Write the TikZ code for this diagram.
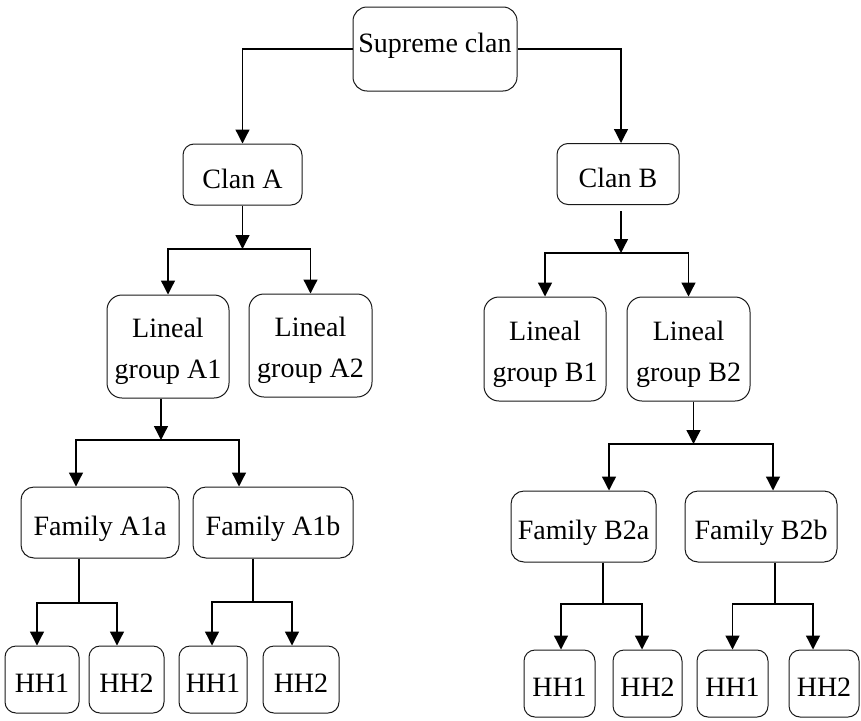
\documentclass[tikz,border=0pt]{standalone}
\usepackage{fontspec}
\setmainfont{Liberation Serif}
\usetikzlibrary{arrows.meta}
\begin{document}
\begin{tikzpicture}[x=1pt,y=-1pt,
  box/.style={draw=black!90, line width=1pt, rounded corners=12pt,
    inner sep=0pt, font=\fontsize{28}{41}\selectfont},
  one/.style={box, text height=25pt, text depth=0pt},
  clan/.style={one, text height=27pt, minimum height=61pt, rounded corners=11pt},
  lin/.style={box, align=center, minimum width=122pt, minimum height=103pt, rounded corners=15pt},
  fam/.style={one, minimum height=71pt, rounded corners=13pt},
  hh/.style={one, minimum height=67pt, rounded corners=11pt},
  link/.style={line width=1.3pt},
  arr/.style={link, -{Triangle[length=14pt,width=14pt]}},
]
\useasboundingbox (0,0) rectangle (861,720);

% top of the tree
\node[one, rounded corners=14pt, minimum width=164pt, minimum height=84pt,
      text height=19pt, text depth=11.6pt] (sup) at (435,49) {Supreme clan};

% clans
\node[clan, minimum width=119pt] (ca) at (242.5,174.5) {Clan A};
\node[clan, minimum width=122pt] (cb) at (618,174) {Clan B};

% lineal groups
\node[lin] (la1) at (168,346.5) {\rule{0pt}{30pt}Lineal\\group A1};
\node[lin, minimum width=123pt] (la2) at (310.5,345.5) {\rule{0pt}{30pt}Lineal\\group A2};
\node[lin, minimum height=104pt] (lb1) at (545,349) {\rule{0pt}{31pt}Lineal\\group B1};
\node[lin, minimum width=123pt, minimum height=104pt] (lb2) at (688.5,349) {\rule{0pt}{31pt}Lineal\\group B2};

% families
\node[fam, minimum width=158pt] (fa) at (100,522.5) {Family A1a};
\node[fam, minimum width=160pt] (fb) at (273,522.5) {Family A1b};
\node[fam, minimum width=145pt] (fc) at (583.5,526.5) {Family B2a};
\node[fam, minimum width=152pt] (fd) at (761,526.5) {Family B2b};

% households
\node[hh, minimum width=74pt] (h1) at (42,679.5) {HH1};
\node[hh, minimum width=75pt] (h2) at (126.5,679.5) {HH2};
\node[hh, minimum width=68pt] (h3) at (213,679.5) {HH1};
\node[hh, minimum width=76pt] (h4) at (301,679.5) {HH2};
\node[hh, minimum width=71pt] (h5) at (559.5,683.5) {HH1};
\node[hh, minimum width=69pt] (h6) at (647.5,683.5) {HH2};
\node[hh, minimum width=71pt] (h7) at (732.5,683.5) {HH1};
\node[hh, minimum width=70pt] (h8) at (824,683.5) {HH2};

% supreme clan to clans
\draw[arr] (sup.west) -| (ca.north);
\draw[arr] (sup.east) -| ([xshift=3pt]cb.north);

% clans to lineal groups
\coordinate (ja) at (242.5,249);
\draw[arr] (ca.south) -- (ja);
\draw[arr] (ja) -| (la1.north);
\draw[arr] (ja) -| (la2.north);

\coordinate (jb) at (621,253);
\draw[arr] ([xshift=3pt,yshift=-6pt]cb.south) -- (jb);
\draw[arr] (jb) -| (lb1.north);
\draw[arr] (jb) -| (lb2.north);

% lineal groups to families
\coordinate (j1) at (161,440);
\draw[arr] ([xshift=-7pt]la1.south) -- (j1);
\draw[arr] (j1) -| ([xshift=-24pt]fa.north);
\draw[arr] (j1) -| ([xshift=-34pt]fb.north);

\coordinate (j2) at (693.5,444);
\draw[arr] ([xshift=5pt]lb2.south) -- (j2);
\draw[arr] (j2) -| ([xshift=25.5pt]fc.north);
\draw[arr] (j2) -| ([xshift=12pt]fd.north);

% families to households
\coordinate (k1) at (79,603);
\draw[link] ([xshift=-21pt]fa.south) -- (k1);
\draw[arr] (k1) -| ([xshift=-5pt]h1.north);
\draw[arr] (k1) -| ([xshift=-9.5pt]h2.north);

\coordinate (k2) at (253,602);
\draw[link] ([xshift=-20pt]fb.south) -- (k2);
\draw[arr] (k2) -| ([xshift=-1pt]h3.north);
\draw[arr] (k2) -| ([xshift=-9pt]h4.north);

\coordinate (k3) at (603,604);
\draw[link] ([xshift=19.5pt]fc.south) -- (k3);
\draw[arr] (k3) -| ([xshift=1.5pt]h5.north);
\draw[arr] (k3) -| ([xshift=-5.5pt]h6.north);

\coordinate (k4) at (775,604);
\draw[link] ([xshift=14pt]fd.south) -- (k4);
\draw[arr] (k4) -| (h7.north);
\draw[arr] (k4) -| ([xshift=-11pt]h8.north);
\end{tikzpicture}
\end{document}
